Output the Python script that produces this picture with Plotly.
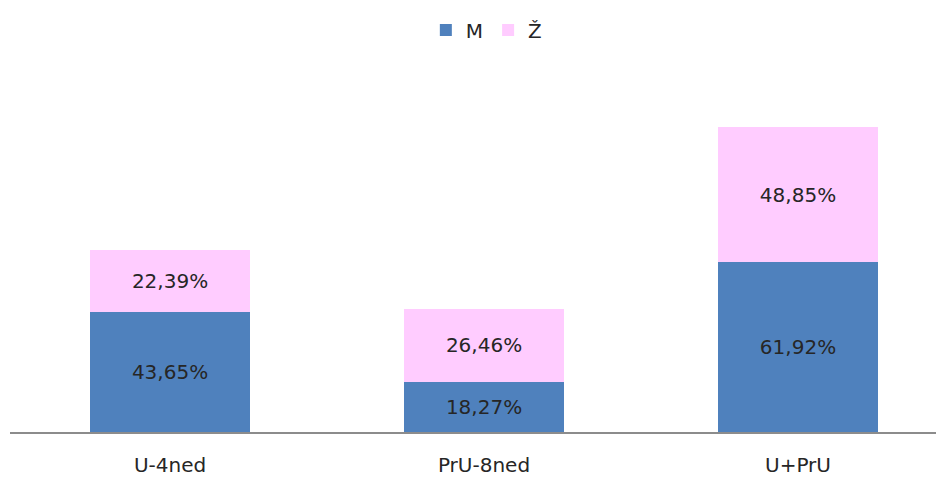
import plotly.graph_objects as go

categories = ["U-4ned", "PrU-8ned", "U+PrU"]
m_values = [43.65, 18.27, 61.92]
z_values = [22.39, 26.46, 48.85]
series_names = ["M", "Ž"]

FONT = "DejaVu Sans"
TXT = "#262626"
fig = go.Figure()
for name, vals, col in [(series_names[0], m_values, "#4F81BD"),
                        (series_names[1], z_values, "#FFCCFF")]:
    fig.add_trace(go.Bar(
        x=categories, y=vals, name=name,
        marker=dict(color=col, line=dict(width=0)),
        texttemplate="%{y:.2f}%", textposition="inside", insidetextanchor="middle",
        insidetextfont=dict(family=FONT, size=20, color=TXT),
        width=0.51, hoverinfo="skip",
    ))

fig.update_layout(
    barmode="stack",
    width=936, height=469,
    margin=dict(l=2, r=0, t=72, b=45),
    paper_bgcolor="white", plot_bgcolor="white",
    separators=",.",
    font=dict(family=FONT, size=20, color=TXT),
    showlegend=True,
    legend=dict(orientation="h", x=0.51, xanchor="center", y=1.142, yanchor="middle",
                font=dict(family=FONT, size=20, color=TXT),
                itemwidth=30, traceorder="normal"),
    uniformtext=dict(minsize=8, mode="show"),
)
fig.update_xaxes(
    range=[-0.5096, 2.465], showline=True, linecolor="#8c8c8c", linewidth=1.5,
    ticks="", showgrid=False, zeroline=False, ticklabelstandoff=14,
    tickfont=dict(family=FONT, size=20, color=TXT),
)
fig.update_yaxes(
    range=[0, 128], visible=False, showgrid=False, zeroline=False,
)

fig.write_html("out.html")
